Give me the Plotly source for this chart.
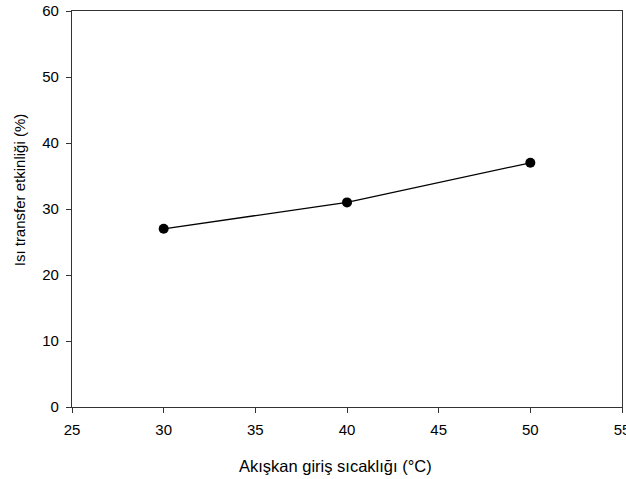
import plotly.graph_objects as go

x_vals = [30, 40, 50]
y_vals = [27, 31, 37]
x_ticks = [25, 30, 35, 40, 45, 50, 55]
y_ticks = [0, 10, 20, 30, 40, 50, 60]
x_title = "Akışkan giriş sıcaklığı (°C)"
y_title = "Isı transfer etkinliği (%)"

fig = go.Figure()
fig.add_trace(go.Scatter(
    x=x_vals, y=y_vals, mode="lines+markers",
    line=dict(color="black", width=1.3),
    marker=dict(color="black", size=10),
    showlegend=False,
    cliponaxis=False,
))

axis_common = dict(
    showgrid=False, zeroline=False, showline=True, linecolor="#333333",
    linewidth=1.3, mirror=True, ticks="outside", ticklen=5, tickwidth=1,
    tickcolor="#333333", automargin=False, ticklabeloverflow="allow",
    tickfont=dict(family="Liberation Sans, Arial", size=15, color="black"),
)

fig.update_layout(
    width=626, height=479,
    margin=dict(l=72, r=4, t=11, b=72, autoexpand=False),
    paper_bgcolor="white", plot_bgcolor="white",
    font=dict(family="Liberation Sans, Arial", color="black"),
    xaxis=dict(range=[25, 55], tickvals=x_ticks, ticklabelstandoff=4, **axis_common),
    yaxis=dict(range=[0, 60], tickvals=y_ticks, ticklabelstandoff=4, **axis_common),
    annotations=[
        dict(text=x_title, xref="paper", yref="paper", x=0.479, y=-0.149,
             xanchor="center", yanchor="middle", showarrow=False,
             font=dict(size=16.5, color="black")),
        dict(text=y_title, xref="paper", yref="paper", x=-0.094, y=0.548,
             xanchor="center", yanchor="middle", showarrow=False, textangle=-90,
             font=dict(size=15, color="black")),
    ],
)

fig.write_html(
    "out.html",
    config={"displayModeBar": False},
    post_script="document.body.style.margin='0';document.body.style.overflow='hidden';",
)
